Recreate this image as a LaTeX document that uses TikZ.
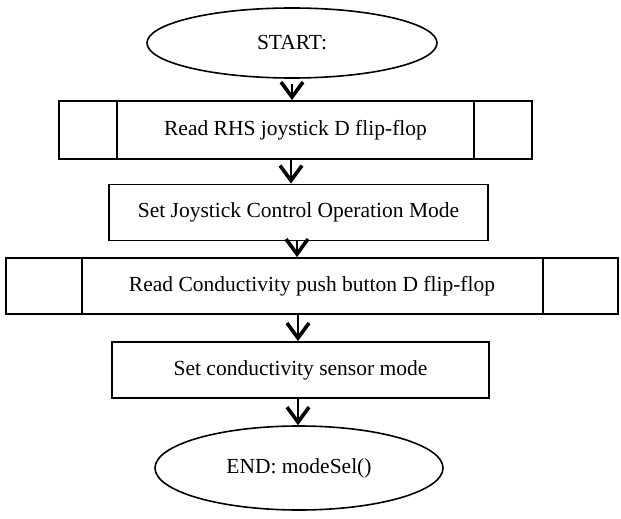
\documentclass[tikz,border=0pt]{standalone}
\usepackage{fontspec}
\setmainfont{Liberation Serif}
\usetikzlibrary{shapes.geometric,arrows.meta}
\begin{document}
\begin{tikzpicture}[x=1pt,y=-1pt,
  every node/.style={font=\fontsize{21.5}{25}\selectfont, inner sep=0pt},
  term/.style={ellipse, draw, line width=1.6pt, minimum width=290pt, minimum height=70pt},
  proc/.style={rectangle, draw, line width=1.8pt},
  arr/.style={line width=1.5pt, -{Straight Barb[length=15pt,width=22pt,line width=3.6pt]}}]
\useasboundingbox (0,0) rectangle (621,519);
\node[term] (start) at (292,43) {START:};
\node[proc, minimum width=473pt, minimum height=58pt] (b1) at (295.5,130) {\raisebox{2.5pt}{Read RHS joystick D flip-flop}};
\node[proc, minimum width=379pt, minimum height=56pt] (b2) at (298.5,212.5) {Set Joystick Control Operation Mode};
\node[proc, minimum width=612pt, minimum height=56pt] (b3) at (312,286) {\raisebox{2pt}{Read Conductivity push button D flip-flop}};
\node[proc, minimum width=377pt, minimum height=56pt] (b4) at (300.5,370) {Set conductivity sensor mode};
\node[term, minimum width=288pt, minimum height=84pt] (end) at (299,468) {END: modeSel()};
% predefined-process side bars
\draw[line width=1.8pt] ([xshift=59pt]b1.north west) -- ([xshift=59pt]b1.south west);
\draw[line width=1.8pt] ([xshift=-59pt]b1.north east) -- ([xshift=-59pt]b1.south east);
\draw[line width=1.8pt] ([xshift=77pt]b3.north west) -- ([xshift=77pt]b3.south west);
\draw[line width=1.8pt] ([xshift=-76pt]b3.north east) -- ([xshift=-76pt]b3.south east);
% connectors
\draw[arr] ([yshift=-5pt]start.south) -- ([xshift=-3.5pt]b1.north);
\draw[arr] ([xshift=-4.5pt]b1.south) -- ([xshift=-7.5pt]b2.north);
\draw[arr] ([xshift=-1.5pt]b2.south) -- ([xshift=-15pt]b3.north);
\draw[arr] ([xshift=-14pt]b3.south) -- ([xshift=-2.5pt]b4.north);
\draw[arr] ([xshift=-2.5pt]b4.south) -- ([xshift=-1pt]end.north);
\end{tikzpicture}
\end{document}
